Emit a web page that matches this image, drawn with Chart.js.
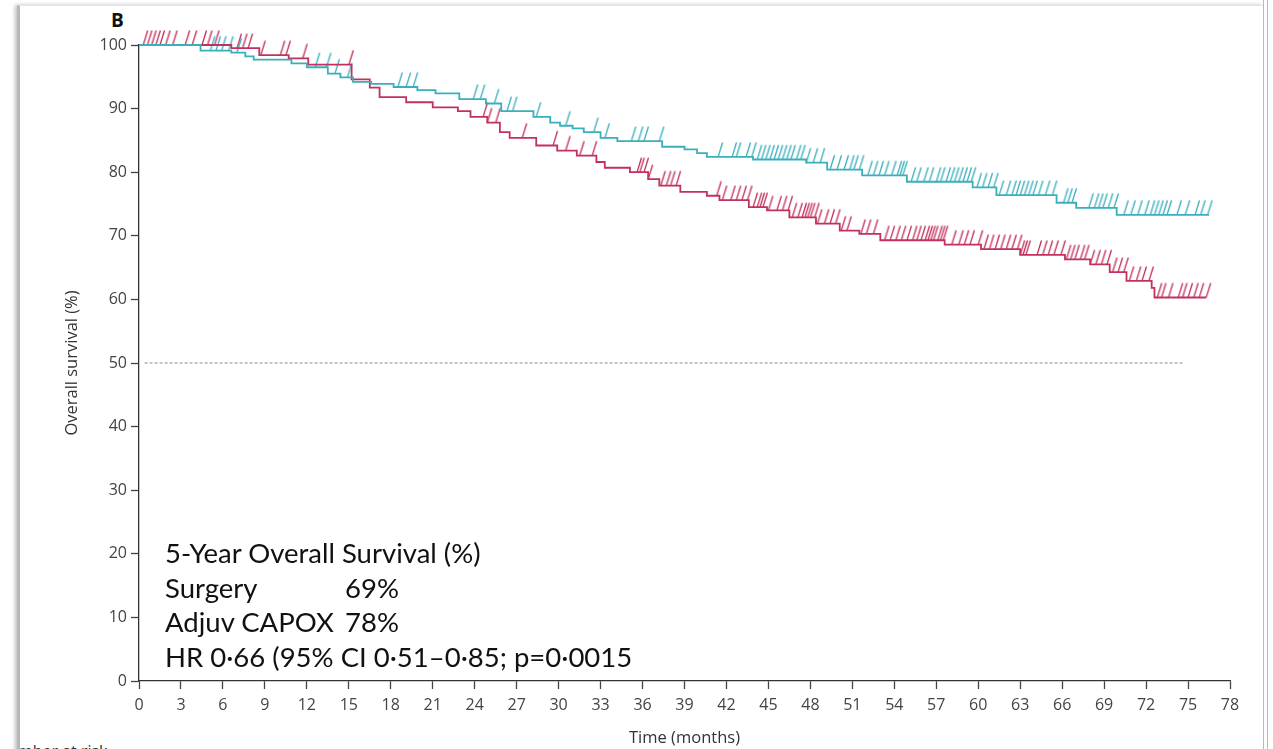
<!DOCTYPE html>
<html lang="en">
<head>
<meta charset="UTF-8">
<title>Overall survival</title>
<script src="https://cdn.jsdelivr.net/npm/chart.js@4.4.1/dist/chart.umd.min.js"></script>
<style>
  html, body { margin: 0; padding: 0; background: #fff; }
  .page { position: relative; width: 1273px; height: 749px; overflow: hidden; }
  .card {
    position: absolute; left: 17px; top: 5px; width: 1243px; height: 780px;
    border-left: 3px solid #b8b8b8; border-top: 1px solid #e4e4e4;
    box-shadow: -2px 0 4px rgba(0,0,0,.25); overflow: hidden;
  }
  .edge {
    position: absolute; left: 1263px; top: 0; width: 3px; height: 749px;
    border-left: 1px solid #d6aab4; border-right: 1px solid #d6aab4;
  }
  .risk {
    position: absolute; left: -24px; top: 734px;
    font: 16px "Open Sans", sans-serif; color: #333;
  }
  .panel {
    position: absolute; left: 111px; top: 7px;
    font: bold 19px "Open Sans", sans-serif; color: #111;
  }
  #km { position: absolute; left: 0; top: 0; }
  .note {
    position: absolute; left: 165px; top: 536px;
    font: 27.5px Lato, sans-serif; line-height: 34.6px; color: #111; white-space: nowrap;
  }
  .note span { display: inline-block; width: 180px; }
</style>
</head>
<body>
<div class="page">
  <div class="card">
    <div class="risk">Number at risk</div>
  </div>
  <div class="edge"></div>
  <div class="panel">B</div>
  <canvas id="km" width="1273" height="749"></canvas>
  <div class="note">
    <div>5-Year Overall Survival (%)</div>
    <div><span>Surgery</span>69%</div>
    <div><span>Adjuv CAPOX</span>78%</div>
    <div>HR 0·66 (95% CI 0·51–0·85; p=0·0015</div>
  </div>
</div>
<script>
// axis ticks
const monthTicks = [0, 3, 6, 9, 12, 15, 18, 21, 24, 27, 30, 33, 36, 39, 42, 45, 48, 51, 54, 57, 60, 63, 66, 69, 72, 75, 78];
const survTicks = [0, 10, 20, 30, 40, 50, 60, 70, 80, 90, 100];

// Kaplan-Meier steps, adjuvant CAPOX arm (months, % alive)
const capoxTimes = [0, 4.4, 6.6, 7.6, 8.2, 10.9, 12.0, 13.5, 14.4, 15.3, 16.6, 18.2, 19.9, 21.2, 22.9, 24.8, 25.9, 28.2, 29.4, 30.1, 31.0, 31.8, 33.0, 34.2, 37.4, 39.0, 39.9, 40.6, 43.9, 47.7, 49.2, 51.7, 54.9, 59.6, 61.3, 65.6, 67.0, 69.9, 76.5];
const capoxSurv = [100, 99.1, 98.8, 98.2, 97.7, 97.1, 96.5, 95.5, 94.9, 94.2, 93.9, 93.4, 92.9, 92.4, 91.5, 90.8, 89.6, 88.7, 87.8, 87.3, 86.9, 86.3, 85.4, 84.9, 84.0, 83.6, 83.0, 82.4, 82.0, 81.5, 80.4, 79.5, 78.5, 77.6, 76.4, 75.2, 74.4, 73.3, 73.3];
const capoxCensored = [5.1, 5.5, 5.9, 6.4, 7.0, 12.6, 13.4, 14.0, 14.9, 18.5, 19.1, 19.6, 23.9, 24.4, 25.4, 26.3, 26.7, 28.4, 30.5, 32.5, 33.3,
  35.2, 35.7, 36.1, 37.2, 41.4, 42.4, 42.7, 43.4, 43.8, 44.2, 44.5, 44.8, 45.1, 45.4, 45.7, 46.0, 46.3, 46.6, 47.0, 47.3, 47.7, 48.2, 48.7,
  49.4, 49.9, 50.4, 50.8, 51.1, 51.5, 52.1, 52.5, 52.9, 53.3, 53.8, 54.2, 54.4, 54.6, 55.2, 55.6, 56.1, 56.5, 57.0, 57.3, 57.7, 58.0, 58.3,
  58.6, 58.9, 59.2, 59.5, 59.9, 60.3, 60.7, 61.1, 61.5, 62.0, 62.4, 62.7, 63.0, 63.3, 63.6, 63.9, 64.3, 64.8, 65.3, 66.1, 66.4, 66.7, 67.9,
  68.3, 68.6, 68.9, 69.3, 69.7, 70.4, 70.9, 71.4, 71.9, 72.3, 72.6, 72.9, 73.2, 73.5, 74.2, 74.8, 75.5, 75.9, 76.4];

// Kaplan-Meier steps, surgery alone arm
const surgeryTimes = [0, 6.6, 8.6, 10.7, 12.1, 15.2, 16.5, 17.2, 19.1, 21.0, 22.8, 23.7, 24.9, 25.8, 26.5, 28.4, 29.9, 31.3, 32.7, 33.3, 35.1, 36.4, 37.2, 38.7, 40.6, 41.5, 43.6, 44.9, 46.5, 48.4, 50.1, 51.5, 53.0, 57.6, 60.2, 63.0, 66.2, 68.0, 69.4, 70.6, 72.4, 72.6, 76.3];
const surgerySurv = [100, 99.5, 98.4, 97.9, 96.9, 94.6, 93.3, 91.8, 91.0, 90.2, 89.6, 88.7, 87.8, 86.3, 85.4, 84.2, 83.4, 82.6, 81.6, 80.7, 80.0, 78.9, 77.9, 76.9, 76.3, 75.6, 74.5, 74.0, 72.9, 71.9, 70.8, 70.3, 69.3, 68.6, 67.9, 67.0, 66.3, 65.5, 64.3, 62.9, 61.8, 60.3, 60.3];
const surgeryCensored = [0.3, 0.6, 0.9, 1.2, 1.5, 1.9, 2.4, 3.3, 3.8, 4.5, 4.9, 5.4, 7.0, 7.4, 7.8, 8.7, 10.1, 10.5, 11.7, 15.0, 24.6, 24.9, 25.5,
  27.4, 29.6, 30.5, 31.5, 32.4, 35.6, 35.8, 36.1, 36.4, 37.3, 37.7, 38.0, 38.4, 41.3, 41.7, 42.3, 42.7, 43.1, 43.5, 43.9, 44.2, 44.4, 44.6,
  45.0, 45.6, 46.0, 46.4, 46.7, 47.1, 47.4, 47.6, 47.8, 48.0, 48.3, 48.5, 49.0, 49.4, 49.8, 50.2, 50.6, 51.6, 52.0, 52.5, 53.3, 53.7, 54.1,
  54.5, 54.9, 55.3, 55.6, 55.9, 56.2, 56.4, 56.6, 56.8, 57.1, 57.3, 57.5, 58.1, 58.6, 59.0, 59.4, 60.0, 60.4, 60.8, 61.2, 61.6, 62.0, 62.4,
  62.8, 63.0, 63.2, 63.4, 64.2, 64.6, 65.0, 65.4, 65.9, 66.3, 66.6, 66.9, 67.3, 67.6, 68.0, 68.4, 68.8, 69.2, 69.6, 70.0, 70.4, 70.8, 71.3,
  71.7, 72.2, 72.8, 73.1, 73.6, 74.3, 74.6, 75.0, 75.4, 75.8, 76.3];

// dashed median line
const medianLevel = 50;
const medianSpan = [0.4, 74.6];

const capoxColor = '#3aafbc';
const surgeryColor = '#c2315c';

function steps(times, surv) {
  return times.map((t, i) => ({ x: t, y: surv[i] }));
}

// survival level in force at time t
function levelAt(times, surv, t) {
  let v = surv[0];
  for (let i = 0; i < times.length; i++) {
    if (times[i] <= t) v = surv[i];
  }
  return v;
}

function censorPoints(list, times, surv) {
  return list.map(t => ({ x: t, y: levelAt(times, surv, t) }));
}

// slanted tick rising from the curve
function censorMark(color) {
  const c = document.createElement('canvas');
  c.width = 12;
  c.height = 32;
  const g = c.getContext('2d');
  g.strokeStyle = color;
  g.lineWidth = 1.3;
  g.beginPath();
  g.moveTo(6, 16);
  g.lineTo(10.5, 1.5);
  g.stroke();
  return c;
}

const axisFont = { family: 'Open Sans', size: 16 };
const titleFont = { family: 'Open Sans', size: 16.5 };

const ctx = document.getElementById('km').getContext('2d');
new Chart(ctx, {
  type: 'line',
  data: {
    datasets: [{
      data: medianSpan.map(x => ({ x: x, y: medianLevel })),
      borderColor: '#8a8a8a',
      borderWidth: 1,
      borderDash: [3, 2],
      pointRadius: 0
    }, {
      label: 'Adjuv CAPOX',
      data: steps(capoxTimes, capoxSurv),
      borderColor: capoxColor,
      borderWidth: 1.8,
      stepped: 'before',
      pointRadius: 0,
      clip: false
    }, {
      label: 'Surgery',
      data: steps(surgeryTimes, surgerySurv),
      borderColor: surgeryColor,
      borderWidth: 1.8,
      stepped: 'before',
      pointRadius: 0,
      clip: false
    }, {
      data: censorPoints(capoxCensored, capoxTimes, capoxSurv),
      showLine: false,
      pointStyle: censorMark(capoxColor),
      pointRadius: 6,
      clip: false
    }, {
      data: censorPoints(surgeryCensored, surgeryTimes, surgerySurv),
      showLine: false,
      pointStyle: censorMark(surgeryColor),
      pointRadius: 6,
      clip: false
    }]
  },
  options: {
    responsive: false,
    animation: false,
    events: [],
    layout: { padding: { left: 0, top: 45, right: 43, bottom: 0 } },
    plugins: { legend: { display: false }, tooltip: { enabled: false } },
    scales: {
      x: {
        type: 'linear',
        min: 0,
        max: 78,
        afterFit: s => { s.height = 68; },
        afterBuildTicks: s => { s.ticks = monthTicks.map(v => ({ value: v })); },
        grid: { drawOnChartArea: false, tickLength: 8, tickColor: '#444', tickWidth: 1.3 },
        border: { color: '#333', width: 1.3 },
        ticks: { color: '#444', font: axisFont, padding: 7, maxRotation: 0, autoSkip: false },
        title: { display: true, text: 'Time (months)', color: '#333', font: titleFont, padding: { top: 0, bottom: 1 } }
      },
      y: {
        min: 0,
        max: 100,
        afterFit: s => { s.width = 139; },
        afterBuildTicks: s => { s.ticks = survTicks.map(v => ({ value: v })); },
        grid: { drawOnChartArea: false, tickLength: 8, tickColor: '#444', tickWidth: 1.3 },
        border: { color: '#333', width: 1.3 },
        ticks: { color: '#444', font: axisFont, padding: 4 },
        title: { display: true, text: 'Overall survival (%)', color: '#333', font: titleFont, padding: { top: 62, bottom: 0 } }
      }
    }
  }
});
</script>
</body>
</html>
